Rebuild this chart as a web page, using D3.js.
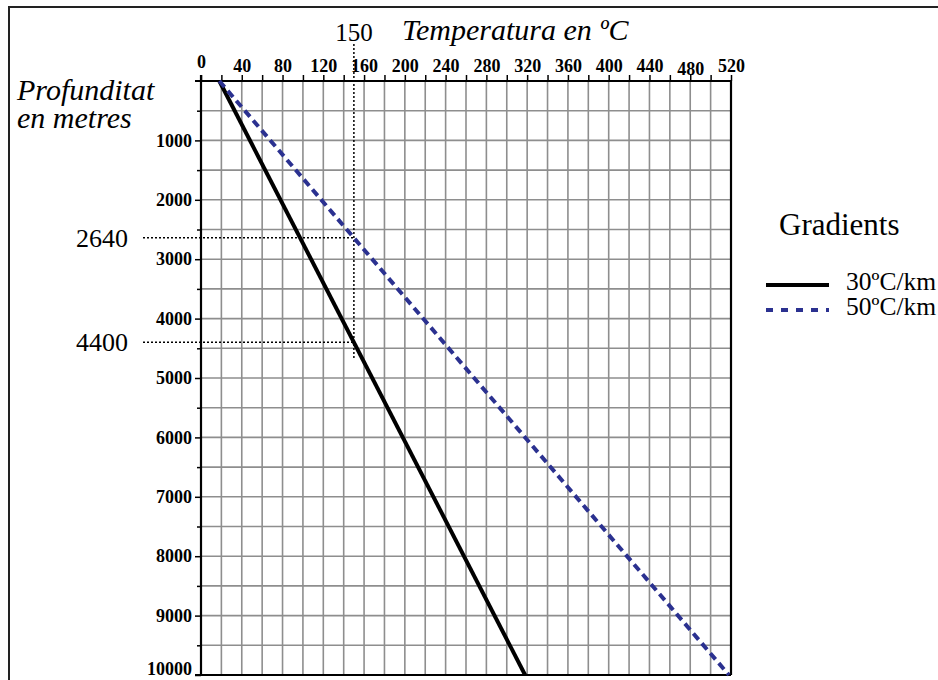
<!DOCTYPE html>
<html lang="ca">
<head>
<meta charset="utf-8">
<title>Gradient geotèrmic</title>
<script src="https://d3js.org/d3.v7.min.js"></script>
<style>
  body { margin: 0; background: #fff; }
  text { font-family: "Liberation Serif", "Times New Roman", serif; fill: #000; }
</style>
</head>
<body>
<script>
// temperature axis (ºC) and depth axis (m)
var tempTicks = [0, 40, 80, 120, 160, 200, 240, 280, 320, 360, 400, 440, 480, 520];
var depthTicks = [1000, 2000, 3000, 4000, 5000, 6000, 7000, 8000, 9000, 10000];

// the two gradients: [temperature, depth]
var gradientNames = ["30ºC/km", "50ºC/km"];
var grad30 = [[18, 0], [318, 10000]];
var grad50 = [[18, 0], [518, 10000]];

// reading guides
var guideTemp = 150;
var guideDepths = [2640, 4400];

var width = 938, height = 680;

var x = d3.scaleLinear().domain([0, 520]).range([201, 731]);
var y = d3.scaleLinear().domain([0, 10000]).range([81, 675]);

var svg = d3.select("body").append("svg")
    .attr("width", width)
    .attr("height", height);

// outer frame (runs off the right and bottom edges)
svg.append("rect")
    .attr("x", 9).attr("y", 7)
    .attr("width", 960).attr("height", 700)
    .attr("fill", "none")
    .attr("stroke", "#222")
    .attr("stroke-width", 2);

// grid
var grid = svg.append("g").attr("stroke", "#8e8e8e").attr("stroke-width", 1.6);
grid.selectAll("line.v")
    .data(d3.range(20, 520, 20))
    .enter().append("line")
    .attr("x1", d => x(d)).attr("x2", d => x(d))
    .attr("y1", y(0)).attr("y2", y(10000));
grid.selectAll("line.h")
    .data(d3.range(500, 10000, 500))
    .enter().append("line")
    .attr("x1", x(0)).attr("x2", x(520))
    .attr("y1", d => y(d)).attr("y2", d => y(d));

// top axis
var xAxis = d3.axisTop(x)
    .tickValues(d3.range(0, 521, 20))
    .tickSize(6)
    .tickFormat(d => tempTicks.indexOf(d) >= 0 ? d : "");
var gx = svg.append("g")
    .attr("transform", "translate(0," + y(0) + ")")
    .call(xAxis);
gx.select(".domain").remove();
gx.selectAll(".tick line").attr("stroke", "#000").attr("stroke-width", 1.5);
gx.selectAll(".tick text")
    .attr("font-size", 18)
    .attr("font-weight", "bold")
    .attr("y", d => d === 0 ? -13 : (d === 480 ? -6 : -9));

// left axis
var yAxis = d3.axisLeft(y)
    .tickValues(d3.range(500, 10001, 500))
    .tickSize(0)
    .tickPadding(9)
    .tickFormat(d => depthTicks.indexOf(d) >= 0 ? d : "");
var gy = svg.append("g")
    .attr("transform", "translate(" + x(0) + ",0)")
    .call(yAxis);
gy.select(".domain").remove();
gy.selectAll(".tick line")
    .attr("x2", d => depthTicks.indexOf(d) >= 0 ? -6 : -4)
    .attr("stroke", "#000").attr("stroke-width", 1.5);
gy.selectAll(".tick text")
    .attr("font-size", 18)
    .attr("font-weight", "bold")
    .attr("dy", d => d === 10000 ? "-0.05em" : "0.32em");

// axis lines and plot border
var frame = svg.append("g").attr("stroke", "#000").attr("stroke-width", 2.2);
frame.append("line").attr("x1", x(0) - 6).attr("x2", x(520)).attr("y1", y(0)).attr("y2", y(0));
frame.append("line").attr("x1", x(0)).attr("x2", x(0)).attr("y1", y(0) - 6).attr("y2", y(10000));
frame.append("line").attr("x1", x(0) - 6).attr("x2", x(520)).attr("y1", y(10000)).attr("y2", y(10000));
frame.append("line").attr("x1", x(520)).attr("x2", x(520)).attr("y1", y(0)).attr("y2", y(10000));

// dotted guides
var guides = svg.append("g")
    .attr("stroke", "#000")
    .attr("stroke-width", 1.5)
    .attr("stroke-dasharray", "2,2");
guides.append("line")
    .attr("x1", x(guideTemp)).attr("x2", x(guideTemp))
    .attr("y1", 44).attr("y2", y(4680));
guides.selectAll("line.h")
    .data(guideDepths)
    .enter().append("line")
    .attr("x1", 143).attr("x2", x(guideTemp))
    .attr("y1", d => y(d)).attr("y2", d => y(d));

svg.append("text")
    .attr("x", x(guideTemp)).attr("y", 41)
    .attr("text-anchor", "middle")
    .attr("font-size", 25)
    .text(guideTemp);

svg.selectAll("text.guide")
    .data(guideDepths)
    .enter().append("text")
    .attr("x", 128).attr("y", d => y(d))
    .attr("dy", "0.34em")
    .attr("text-anchor", "end")
    .attr("font-size", 26)
    .text(d => d);

// gradient lines
var line = d3.line().x(d => x(d[0])).y(d => y(d[1]));
svg.append("path")
    .datum(grad30)
    .attr("d", line)
    .attr("fill", "none")
    .attr("stroke", "#000")
    .attr("stroke-width", 4);
svg.append("path")
    .datum(grad50)
    .attr("d", line)
    .attr("fill", "none")
    .attr("stroke", "#2b3190")
    .attr("stroke-width", 4)
    .attr("stroke-dasharray", "8,5");

// titles
svg.append("text")
    .attr("x", 402).attr("y", 40)
    .attr("font-size", 30)
    .attr("font-style", "italic")
    .text("Temperatura en ºC");
svg.append("text")
    .attr("x", 17).attr("y", 100)
    .attr("font-size", 30)
    .attr("font-style", "italic")
    .text("Profunditat");
svg.append("text")
    .attr("x", 17).attr("y", 128)
    .attr("font-size", 30)
    .attr("font-style", "italic")
    .text("en metres");

// legend
svg.append("text")
    .attr("x", 779).attr("y", 235)
    .attr("font-size", 31)
    .text("Gradients");
var legend = svg.selectAll("g.legend")
    .data(gradientNames)
    .enter().append("g")
    .attr("transform", (d, i) => "translate(766," + (285 + i * 25) + ")");
legend.append("line")
    .attr("x1", 0).attr("x2", 63)
    .attr("stroke", (d, i) => i === 0 ? "#000" : "#2b3190")
    .attr("stroke-width", 4)
    .attr("stroke-dasharray", (d, i) => i === 0 ? null : "7,8");
legend.append("text")
    .attr("x", 80).attr("y", 5)
    .attr("font-size", 25.5)
    .text(d => d);
</script>
</body>
</html>
